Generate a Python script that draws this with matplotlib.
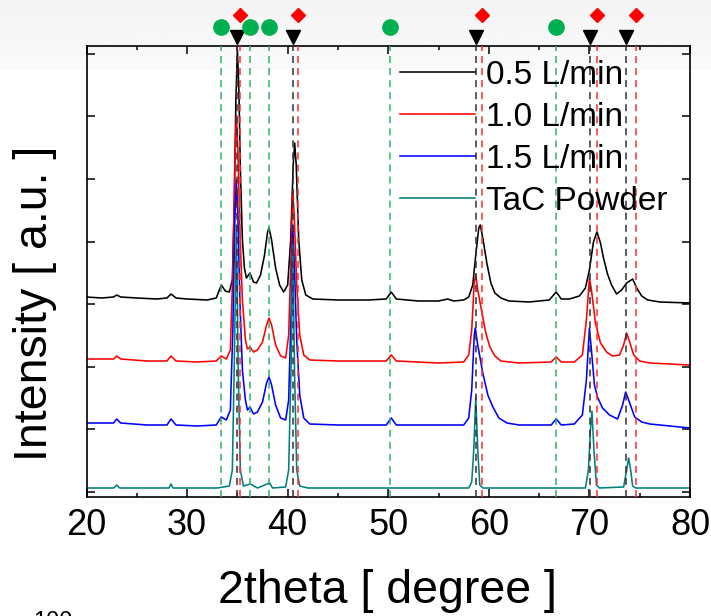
import matplotlib
matplotlib.use('Agg')
import matplotlib.pyplot as plt
import numpy as np
from matplotlib.ticker import MultipleLocator, NullFormatter

plt.rcParams['font.family'] = ['Liberation Sans', 'DejaVu Sans']

# ---------------- data (arbitrary units) ----------------
series_labels = ['0.5 L/min', '1.0 L/min', '1.5 L/min', 'TaC Powder']
series_colors = ['#000000', '#ff0000', '#0000ff', '#008080']
x_ticks = [20, 30, 40, 50, 60, 70, 80]

x_05 = [20.0, 21.5, 22.7, 23.0, 23.4, 25.0, 27.0, 28.0, 28.4, 28.9, 30.0, 32.0, 32.9, 33.4, 33.8,
        34.2, 34.5, 34.7, 34.85, 35.0, 35.15, 35.3, 35.5, 35.7, 35.9, 36.25, 36.6, 36.9, 37.3, 37.7,
        38.0, 38.15, 38.4, 38.8, 39.2, 39.6, 40.0, 40.3, 40.55, 40.7, 40.85, 41.1, 41.4, 41.8, 42.5,
        45.0, 48.0, 49.8, 50.3, 50.8, 53.0, 55.0, 55.9, 56.5, 57.5, 58.0, 58.4, 58.7, 59.0, 59.15,
        59.4, 59.8, 60.2, 60.6, 61.2, 62.0, 64.0, 66.0, 66.7, 67.2, 68.0, 69.0, 69.6, 70.0, 70.4,
        70.75, 71.1, 71.4, 71.8, 72.2, 72.7, 73.2, 73.7, 74.3, 74.7, 75.2, 75.8, 77.0, 80.0]
y_05 = [1950, 1940, 1950, 1970, 1950, 1940, 1930, 1940, 1980, 1940, 1930, 1920, 1940, 2070, 2010,
        2000, 2120, 2920, 3920, 4420, 4020, 3220, 2520, 2240, 2140, 2190, 2100, 2090, 2170, 2370,
        2600, 2640, 2520, 2240, 2070, 2000, 2070, 2520, 3270, 3490, 3270, 2520, 2120, 1970, 1930,
        1920, 1920, 1930, 2000, 1930, 1910, 1910, 1930, 1910, 1920, 1950, 2070, 2370, 2640, 2670,
        2540, 2290, 2090, 1990, 1940, 1910, 1900, 1920, 2000, 1930, 1930, 1960, 2040, 2220, 2500,
        2600, 2490, 2340, 2180, 2070, 1980, 2020, 2090, 2130, 2040, 1960, 1920, 1900, 1890]

x_10 = [20, 22.7, 23.0, 23.4, 26, 28.0, 28.4, 28.9, 31, 32.9, 33.4, 33.9, 34.3, 34.55, 34.75,
        34.9, 35.05, 35.25, 35.5, 35.8, 36.0, 36.25, 36.6, 37.0, 37.5, 37.9, 38.15, 38.4, 38.8, 39.3,
        39.8, 40.1, 40.35, 40.5, 40.65, 40.9, 41.2, 41.6, 42.2, 45, 49.8, 50.3, 50.8, 55, 57.5,
        58.0, 58.3, 58.55, 58.7, 58.9, 59.3, 59.7, 60.1, 60.6, 61.2, 63, 66.2, 66.7, 67.2, 68.5,
        69.3, 69.7, 70.0, 70.2, 70.6, 71.1, 71.7, 72.3, 73.0, 73.4, 73.7, 74.0, 74.4, 75.0, 76, 80]
y_10 = [1330, 1330, 1360, 1330, 1310, 1310, 1360, 1310, 1300, 1310, 1360, 1330, 1420, 2220, 3320,
        3770, 3420, 2620, 1920, 1520, 1430, 1450, 1400, 1420, 1500, 1670, 1740, 1670, 1470, 1360,
        1340, 1570, 2420, 3020, 2770, 2070, 1570, 1370, 1320, 1310, 1310, 1370, 1310, 1290, 1300,
        1370, 1620, 2100, 2170, 2020, 1800, 1590, 1450, 1360, 1310, 1290, 1300, 1350, 1300, 1300,
        1370, 1720, 2140, 2020, 1690, 1490, 1400, 1360, 1370, 1470, 1590, 1500, 1370, 1310, 1290, 1270]

x_15 = [20, 22.7, 23.0, 23.4, 26, 28.0, 28.4, 28.9, 31, 32.9, 33.4, 33.9, 34.3, 34.55, 34.75,
        34.9, 35.05, 35.25, 35.5, 35.8, 36.0, 36.25, 36.6, 37.0, 37.5, 37.9, 38.15, 38.4, 38.8, 39.3,
        39.8, 40.1, 40.35, 40.5, 40.65, 40.9, 41.2, 41.6, 42.2, 45, 49.8, 50.3, 50.8, 55, 57.5,
        58.0, 58.3, 58.55, 58.65, 58.9, 59.4, 59.9, 60.4, 61.0, 61.8, 63, 66.2, 66.7, 67.2, 68.5,
        69.3, 69.7, 70.0, 70.2, 70.5, 70.8, 71.3, 72.0, 72.8, 73.3, 73.6, 73.9, 74.5, 75.2, 76, 80]
y_15 = [690, 690, 730, 690, 670, 670, 730, 670, 660, 670, 750, 720, 820, 1620, 2720,
        3120, 2770, 1920, 1220, 920, 820, 850, 780, 800, 900, 1090, 1150, 1070, 870, 740,
        720, 920, 1820, 2670, 2320, 1520, 970, 740, 680, 670, 670, 740, 670, 670, 670,
        740, 1020, 1570, 1640, 1470, 1190, 970, 850, 740, 690, 670, 670, 730, 670, 680,
        770, 1120, 1640, 1420, 1070, 950, 840, 770, 730, 870, 1000, 920, 750, 700, 680, 640]

x_tac = [20, 22.7, 23.0, 23.3, 28.2, 28.4, 28.6, 33.0, 34.2, 34.5, 34.7, 34.9, 35.1, 35.3, 35.6,
         36.3, 37.0, 38.2, 38.5, 39.8, 40.1, 40.35, 40.5, 40.7, 40.9, 41.2, 42.0, 58.0, 58.3, 58.5,
         58.7, 58.9, 59.1, 59.4, 69.6, 69.9, 70.1, 70.25, 70.45, 70.7, 71.0, 73.4, 73.7, 73.9, 74.1,
         74.3, 74.6, 80]
y_tac = [40, 40, 70, 40, 40, 80, 40, 40, 60, 220, 1320, 2670, 1120, 220, 60,
         80, 40, 90, 40, 50, 220, 1320, 2470, 1120, 220, 60, 40, 40, 100, 420,
         950, 420, 70, 40, 40, 220, 620, 810, 420, 70, 40, 50, 220, 340, 220,
         60, 40, 40]

# reference peak positions (2theta)
green_peaks = [33.4, 36.3, 38.15, 50.2, 66.7]      # circles
black_peaks = [34.95, 40.5, 58.7, 70.05, 73.65]    # triangles (TaC)
red_peaks = [35.25, 41.0, 59.3, 70.75, 74.6]       # diamonds

triangle_level = 4550
circle_level = 4650
diamond_level = 4770

# ---------------- figure ----------------
W, H = 711, 616
fig = plt.figure(figsize=(W / 100, H / 100), dpi=100)
fig.patch.set_facecolor('white')

# light slide-like gradient at the top
bg = fig.add_axes([0, 1 - 70 / H, 1, 70 / H], zorder=-5)
grad = np.linspace(0.955, 0.98, 50).reshape(-1, 1)
bg.imshow(np.repeat(grad, 2, axis=1), cmap='gray', vmin=0, vmax=1, aspect='auto',
          extent=[0, 1, 0, 1], origin='upper')
bg.axis('off')

ax = fig.add_axes([86.5 / W, 1 - 497 / H, (690 - 86.5) / W, 451 / H])
ax.set_facecolor('none')

xs = [x_05, x_10, x_15, x_tac]
ys = [y_05, y_10, y_15, y_tac]
handles = []
for xv, yv, c, lab in zip(xs, ys, series_colors, series_labels):
    ln, = ax.plot(xv, yv, color=c, lw=1.15, label=lab, zorder=2)
    handles.append(ln)

dash = (3.6, 2.6)
for p in green_peaks:
    ax.axvline(p, color='#22b060', lw=1.4, dashes=dash, alpha=0.75, zorder=3)
for p in black_peaks:
    ax.axvline(p, color='#333333', lw=1.4, dashes=dash, alpha=0.8, zorder=3)
for p in red_peaks:
    ax.axvline(p, color='#ff3030', lw=1.4, dashes=dash, alpha=0.8, zorder=3)

ax.plot(black_peaks, [triangle_level] * len(black_peaks), 'v', color='black', ms=10.5,
        clip_on=False, zorder=5)
ax.plot(green_peaks, [circle_level] * len(green_peaks), 'o', color='#00b050', ms=11,
        clip_on=False, zorder=5)
ax.plot(red_peaks, [diamond_level] * len(red_peaks), 'D', color='#ff0000', ms=7.5,
        clip_on=False, zorder=6)

ax.set_xlim(20, 80)
ax.set_ylim(-50, 4460)
ax.set_xticks(x_ticks)
ax.xaxis.set_minor_locator(MultipleLocator(5))
ax.yaxis.set_major_locator(MultipleLocator(626))
ax.yaxis.set_major_formatter(NullFormatter())
ax.tick_params(axis='both', which='major', direction='in', length=6, width=1.1,
               top=True, right=True, labelsize=26, pad=8)
ax.tick_params(axis='x', which='minor', direction='in', length=3, width=1.1, top=True)
for s in ax.spines.values():
    s.set_linewidth(1.2)

leg = ax.legend(handles=handles, loc='upper left', bbox_to_anchor=(0.5195, 0.97),
                frameon=False, fontsize=24, handlelength=2.25, handletextpad=0.33,
                labelspacing=0.33, borderpad=0, borderaxespad=0)

fig.text(388 / W, 1 - 603 / H, '2theta [ degree ]', ha='center', va='baseline', fontsize=33.5)
fig.text(35 / W, 1 - 303 / H, 'Intensity [ a.u. ]', ha='center', va='center',
         rotation=90, fontsize=33.5)
fig.text(33 / W, 1 - 611 / H, '100', ha='left', va='top', fontsize=17)

fig.savefig('out.png', dpi=100)
